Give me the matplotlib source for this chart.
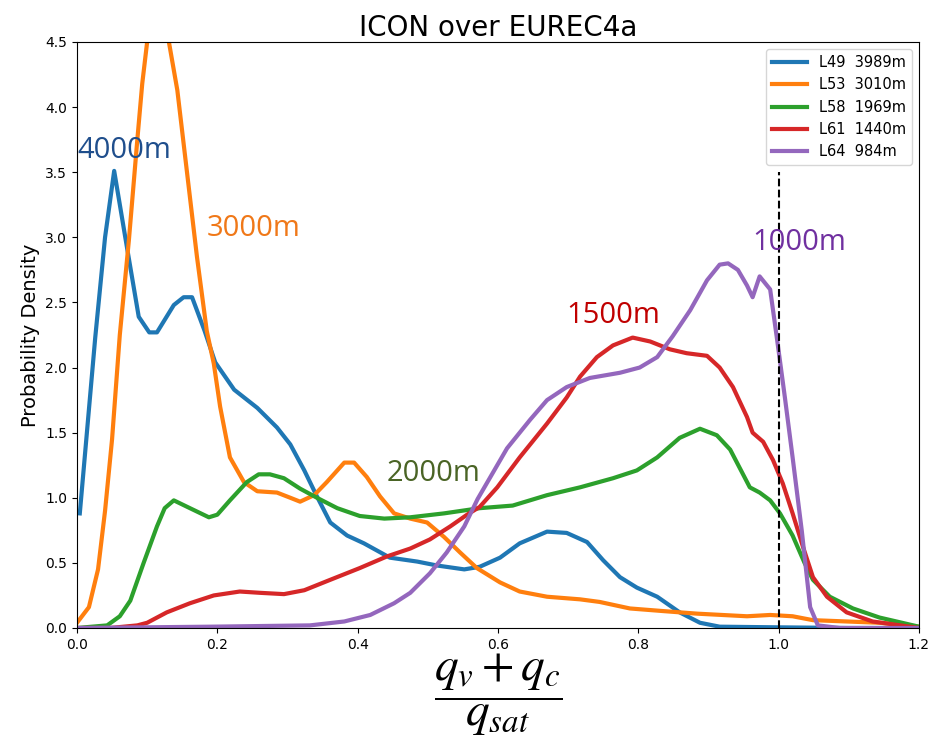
import matplotlib
matplotlib.use('Agg')
import matplotlib.pyplot as plt

x_l49 = [0.004, 0.026, 0.040, 0.053, 0.071, 0.088, 0.103, 0.114, 0.138, 0.152, 0.164, 0.182,
         0.197, 0.224, 0.257, 0.285, 0.304, 0.324, 0.342, 0.361, 0.385, 0.409, 0.446, 0.485,
         0.513, 0.552, 0.574, 0.603, 0.631, 0.670, 0.698, 0.727, 0.750, 0.774, 0.798, 0.827,
         0.859, 0.888, 0.916, 1.0, 1.1, 1.2]
y_l49 = [0.88, 2.23, 3.00, 3.51, 2.93, 2.39, 2.27, 2.27, 2.48, 2.54, 2.54, 2.28,
         2.04, 1.83, 1.69, 1.54, 1.41, 1.21, 1.01, 0.81, 0.71, 0.65, 0.54, 0.51,
         0.48, 0.45, 0.47, 0.54, 0.65, 0.74, 0.73, 0.66, 0.52, 0.39, 0.31, 0.24,
         0.12, 0.04, 0.01, 0.005, 0.0, 0.0]

x_l53 = [0.0, 0.017, 0.030, 0.040, 0.050, 0.061, 0.074, 0.086, 0.093, 0.100, 0.107, 0.115, 0.124,
         0.131, 0.143, 0.157, 0.171, 0.185, 0.195, 0.204, 0.218, 0.238, 0.257, 0.285, 0.304,
         0.318, 0.338, 0.356, 0.381, 0.395, 0.413, 0.432, 0.452, 0.475, 0.499, 0.523, 0.546,
         0.570, 0.603, 0.631, 0.670, 0.717, 0.745, 0.788, 0.835, 0.884, 0.955, 0.988, 1.020,
         1.049, 1.097, 1.144, 1.2]
y_l53 = [0.04, 0.16, 0.45, 0.90, 1.45, 2.25, 2.98, 3.75, 4.18, 4.50, 4.80, 4.95, 4.80,
         4.50, 4.13, 3.49, 2.85, 2.28, 2.03, 1.70, 1.31, 1.12, 1.05, 1.04, 1.00,
         0.97, 1.02, 1.12, 1.27, 1.27, 1.16, 1.01, 0.88, 0.84, 0.81, 0.70, 0.58,
         0.46, 0.35, 0.28, 0.24, 0.22, 0.20, 0.15, 0.13, 0.11, 0.09, 0.10, 0.09,
         0.06, 0.05, 0.04, 0.01]

x_l58 = [0.0, 0.043, 0.061, 0.076, 0.095, 0.114, 0.125, 0.138, 0.161, 0.188, 0.200, 0.218,
         0.242, 0.259, 0.275, 0.295, 0.318, 0.342, 0.371, 0.403, 0.438, 0.475, 0.523, 0.574,
         0.621, 0.670, 0.717, 0.764, 0.798, 0.827, 0.859, 0.888, 0.912, 0.931, 0.959, 0.973,
         0.988, 1.002, 1.020, 1.037, 1.049, 1.073, 1.106, 1.144, 1.2]
y_l58 = [0.0, 0.02, 0.09, 0.21, 0.50, 0.78, 0.92, 0.98, 0.92, 0.85, 0.87, 0.98,
         1.12, 1.18, 1.18, 1.15, 1.07, 1.00, 0.92, 0.86, 0.84, 0.85, 0.88, 0.92,
         0.94, 1.02, 1.08, 1.15, 1.21, 1.31, 1.46, 1.53, 1.48, 1.37, 1.08, 1.04,
         0.98, 0.88, 0.71, 0.50, 0.37, 0.24, 0.15, 0.08, 0.01]

x_l61 = [0.0, 0.047, 0.086, 0.100, 0.128, 0.161, 0.195, 0.232, 0.261, 0.295, 0.324, 0.361,
         0.403, 0.442, 0.475, 0.503, 0.532, 0.556, 0.574, 0.599, 0.631, 0.670, 0.698, 0.717,
         0.741, 0.764, 0.792, 0.817, 0.845, 0.869, 0.898, 0.916, 0.935, 0.955, 0.963, 0.978,
         0.992, 1.006, 1.020, 1.035, 1.049, 1.069, 1.097, 1.134, 1.2]
y_l61 = [0.0, 0.0, 0.02, 0.04, 0.12, 0.19, 0.25, 0.28, 0.27, 0.26, 0.29, 0.37,
         0.46, 0.55, 0.61, 0.68, 0.78, 0.87, 0.93, 1.08, 1.31, 1.57, 1.77, 1.93,
         2.08, 2.17, 2.23, 2.20, 2.14, 2.11, 2.09, 2.00, 1.85, 1.62, 1.50, 1.43,
         1.29, 1.11, 0.88, 0.62, 0.39, 0.24, 0.12, 0.05, 0.0]

x_l64 = [0.0, 0.190, 0.332, 0.381, 0.418, 0.452, 0.475, 0.503, 0.527, 0.552, 0.571, 0.599,
         0.613, 0.646, 0.670, 0.698, 0.731, 0.774, 0.802, 0.827, 0.849, 0.874, 0.898, 0.916,
         0.928, 0.942, 0.955, 0.963, 0.973, 0.988, 0.998, 1.009, 1.020, 1.033, 1.045, 1.056,
         1.087, 1.2]
y_l64 = [0.0, 0.01, 0.02, 0.05, 0.10, 0.19, 0.27, 0.42, 0.58, 0.78, 0.99, 1.25,
         1.38, 1.60, 1.75, 1.85, 1.92, 1.96, 2.00, 2.08, 2.24, 2.44, 2.67, 2.79,
         2.80, 2.75, 2.63, 2.54, 2.70, 2.60, 2.21, 1.77, 1.31, 0.75, 0.16, 0.02,
         0.0, 0.0]

labels = ['L49  3989m', 'L53  3010m', 'L58  1969m', 'L61  1440m', 'L64  984m']
colors = ['#1f77b4', '#ff7f0e', '#2ca02c', '#d62728', '#9467bd']

# height annotations added on top of the figure
ann_text = ['4000m', '3000m', '2000m', '1500m', '1000m']
ann_x = [0.001, 0.185, 0.442, 0.698, 0.962]
ann_y = [3.67, 3.07, 1.19, 2.40, 2.96]
ann_color = ['#1f4e8c', '#f07818', '#4a6425', '#c00000', '#7030a0']

plt.rcParams['mathtext.fontset'] = 'stix'

fig = plt.figure(figsize=(9.31, 7.51), dpi=100)
ax = fig.add_axes([0.0827, 0.1638, 0.9043, 0.7803])

series = [(x_l49, y_l49), (x_l53, y_l53), (x_l58, y_l58), (x_l61, y_l61), (x_l64, y_l64)]
for (xs, ys), lab, c in zip(series, labels, colors):
    ax.plot(xs, ys, color=c, lw=3, label=lab)

ax.vlines(1.0, 0, 3.5, colors='black', linestyles='--', lw=1.5)

for t, x, y, c in zip(ann_text, ann_x, ann_y, ann_color):
    ax.text(x, y, t, color=c, fontsize=21, family='Open Sans', va='center', ha='left')

ax.set_xlim(0, 1.2)
ax.set_ylim(0, 4.5)
ax.set_xticks([0.0, 0.2, 0.4, 0.6, 0.8, 1.0, 1.2])
ax.set_yticks([0.0, 0.5, 1.0, 1.5, 2.0, 2.5, 3.0, 3.5, 4.0, 4.5])
ax.tick_params(labelsize=10)

ax.set_title('ICON over EUREC4a', fontsize=20, pad=4)
ax.set_ylabel('Probability Density', fontsize=14)
ax.set_xlabel(r'$\dfrac{q_v + q_c}{q_{sat}}$', fontsize=34, labelpad=0)

ax.legend(loc='upper right', fontsize=10.5, handlelength=2.4)

fig.savefig('out.png', dpi=100)
